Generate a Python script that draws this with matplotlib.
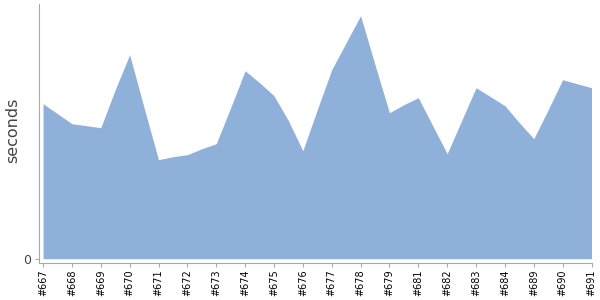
import matplotlib
matplotlib.use("Agg")
import matplotlib.pyplot as plt
import numpy as np

labels = ["#667", "#668", "#669", "#670", "#671", "#672", "#673", "#674", "#675", "#676",
          "#677", "#678", "#679", "#681", "#682", "#683", "#684", "#689", "#690", "#691"]
# values sampled at half-step positions (label index and midway between labels)
values = [155, 145, 135, 133, 131, 169, 204, 151, 99, 102,
          104, 110, 115, 151, 188, 176, 163, 138, 108, 149,
          189, 216, 243, 194, 146, 154, 161, 133, 105, 138,
          171, 162, 153, 136, 120, 149, 179, 175, 171]

x = np.arange(len(values)) / 2.0

fig = plt.figure(figsize=(6, 3), dpi=100)
ax_w = (591.5 - 39) / 600
ax = fig.add_axes([39 / 600, (300 - 262.7) / 300, ax_w, (262.7 - 4) / 300])
ax.fill_between(x, 0, values, color="#8FB1D9", linewidth=0)
ax.set_xlim(-0.14, 19.0)
ax.set_ylim(-4, 254.7)

ax.set_xticks(np.arange(len(labels)))
ax.set_xticklabels(labels, rotation=90, fontsize=7, color="black")
ax.set_yticks([0])
ax.set_yticklabels(["0"], fontsize=9, color="#444444")
ax.tick_params(axis="x", length=3, width=0.8, color="#aaaaaa", pad=2)
ax.tick_params(axis="y", length=3, width=0.8, color="#aaaaaa", pad=3)
for s in ["top", "right"]:
    ax.spines[s].set_visible(False)
for s in ["left", "bottom"]:
    ax.spines[s].set_color("#aaaaaa")
    ax.spines[s].set_linewidth(0.8)
ax.set_ylabel("seconds", fontsize=11.5, color="#444444", va="center")
ax.yaxis.set_label_coords((13 - 39) / 600 / ax_w, 0.51)

fig.savefig("out.png", dpi=100)
